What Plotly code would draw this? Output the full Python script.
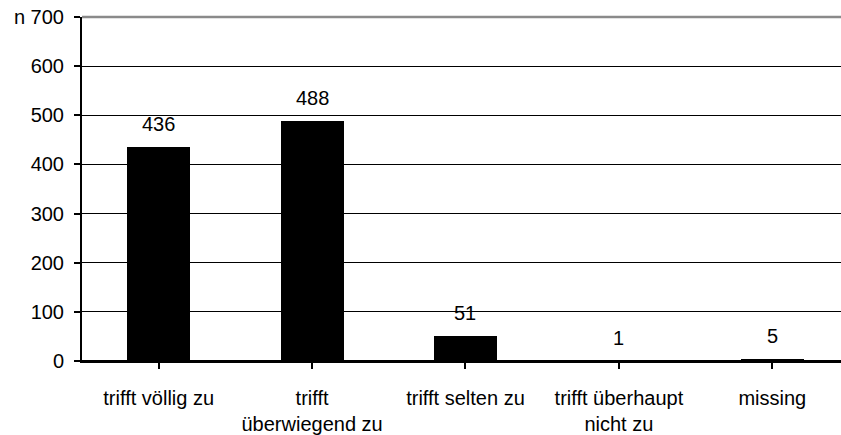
import plotly.graph_objects as go

# Antwortkategorien und Häufigkeiten (n)
categories = ["trifft völlig zu", "trifft<br>überwiegend zu", "trifft selten zu",
              "trifft überhaupt<br>nicht zu", "missing"]
counts = [436, 488, 51, 1, 5]

y_tick_values = [0, 100, 200, 300, 400, 500, 600, 700]
y_tick_labels = ["0", "100", "200", "300", "400", "500", "600", "n 700"]

FONT = dict(family="Liberation Sans, Arial, sans-serif", size=20, color="black")

x_idx = list(range(len(categories)))

fig = go.Figure()
fig.add_trace(go.Bar(
    x=x_idx,
    y=counts,
    width=0.41,
    marker=dict(color="black", line=dict(width=0)),
    hoverinfo="skip",
))

# value labels above each bar
for xi, v in zip(x_idx, counts):
    fig.add_annotation(
        x=xi, y=v, text=str(v), showarrow=False,
        yanchor="bottom", yshift=10, font=FONT,
    )

# grey top border of the plot area
fig.add_shape(type="line", xref="paper", yref="paper",
              x0=0, x1=1, y0=1, y1=1,
              line=dict(color="#8a8a8a", width=2.5), layer="above")

fig.update_layout(
    width=841, height=435,
    margin=dict(l=82, r=0, t=16.5, b=71.3),
    paper_bgcolor="white", plot_bgcolor="white",
    font=FONT,
    showlegend=False,
    bargap=0,
)

fig.update_xaxes(
    tickmode="array", tickvals=x_idx, ticktext=categories,
    tickson="boundaries",
    range=[-0.5, 4.448],
    showgrid=False, zeroline=False,
    showline=True, linecolor="black", linewidth=2,
    ticks="outside", ticklen=6, tickwidth=1.5, tickcolor="black",
    ticklabelstandoff=12,
    tickangle=0,
)

fig.update_yaxes(
    tickmode="array", tickvals=y_tick_values, ticktext=y_tick_labels,
    range=[0, 700],
    showgrid=True, gridcolor="black", gridwidth=1.2,
    zeroline=True, zerolinecolor="black", zerolinewidth=2,
    showline=True, linecolor="black", linewidth=2,
    ticks="outside", ticklen=6, tickwidth=1.5, tickcolor="black",
    ticklabelstandoff=6,
)

fig.write_html("out.html")
